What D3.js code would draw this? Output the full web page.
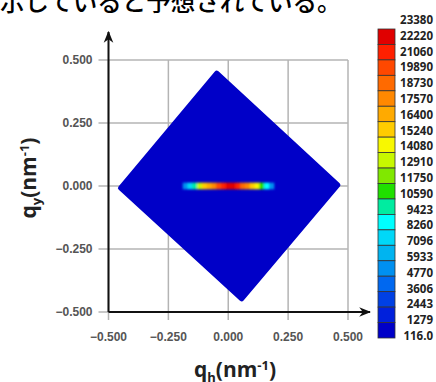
<!DOCTYPE html>
<html>
<head>
<meta charset="utf-8">
<script src="https://cdn.jsdelivr.net/npm/d3@7/dist/d3.min.js"></script>
<style>
  body { margin: 0; background: #fff; }
  svg { display: block; }
  .tick-label { font-family: "Liberation Sans Narrow", "Liberation Sans", sans-serif; font-size: 12px; font-weight: bold; fill: #555; }
  .cb-label { font-family: "Open Sans", "Liberation Sans", sans-serif; font-size: 11.5px; font-weight: bold; fill: #222; }
  .axis-title { font-family: "Open Sans", sans-serif; font-size: 21px; font-weight: bold; fill: #222; }
</style>
</head>
<body>
<div id="chart"></div>
<script>
// --- data ---
const xTicks = [-0.5, -0.25, 0, 0.25, 0.5];
const yTicks = [-0.5, -0.25, 0, 0.25, 0.5];

// colour bar: labels top -> bottom, box colours top -> bottom
const cbLabels = ["23380", "22220", "21060", "19890", "18730", "17570", "16400", "15240", "14080", "12910",
  "11750", "10590", "9423", "8260", "7096", "5933", "4770", "3606", "2443", "1279", "116.0"];
const cbColors = ["#e00000", "#ff2000", "#ff4800", "#ff6a00", "#ff8800", "#ffaa00", "#ffcc00", "#f8f800", "#c8f800", "#80e800",
  "#20e000", "#00eca0", "#00ffff", "#00d8f8", "#00b4f0", "#0090f0", "#0068f0", "#0040e4", "#0020dc", "#0000c8"];

// footprint of the sample (rotated square), corners in q units
const footprintQh = [-0.048, 0.458, 0.056, -0.450];
const footprintQy = [0.448, 0.004, -0.448, -0.008];

// streak along q_y = 0
const streakQh = [-0.18, -0.16, -0.14, -0.12, -0.10, -0.08, -0.06, -0.04, -0.02, 0.00,
  0.02, 0.04, 0.06, 0.08, 0.10, 0.12, 0.14, 0.16, 0.18];
const streakI = [5200, 8200, 10300, 13500, 15600, 17200, 18600, 20200, 22000, 23000,
  23100, 21600, 19600, 17600, 16000, 14300, 11000, 8400, 5400];

const width = 436, height = 382;
const svg = d3.select("#chart").append("svg")
  .attr("width", width).attr("height", height);

// caption from the page above (cropped)
svg.append("text")
  .attr("x", 0).attr("y", 11)
  .style("font-family", "'Noto Sans CJK JP', sans-serif")
  .style("font-size", "24.5px")
  .style("font-weight", 500)
  .text("示していると予想されている。");

// --- scales ---
const x = d3.scaleLinear().domain([-0.5, 0.5]).range([108.5, 348]);
const y = d3.scaleLinear().domain([-0.5, 0.5]).range([312, 60]);

// colour scale from the bar's thresholds
const thresholds = cbLabels.slice(1, -1).map(Number).reverse();
const color = d3.scaleThreshold().domain(thresholds).range(cbColors.slice().reverse());

const defs = svg.append("defs");
defs.append("filter").attr("id", "blur")
  .attr("x", "-20%").attr("y", "-100%").attr("width", "140%").attr("height", "300%")
  .append("feGaussianBlur").attr("stdDeviation", "1.2 0.9");

// grid
const grid = svg.append("g");
grid.selectAll(".gx").data(xTicks).join("line")
  .attr("x1", d => x(d)).attr("x2", d => x(d))
  .attr("y1", y(0.5)).attr("y2", y(-0.5) + 8)
  .attr("stroke", "#b4b4b4").attr("stroke-width", 1.5);
grid.selectAll(".gy").data(yTicks).join("line")
  .attr("x1", x(-0.5) - 10).attr("x2", x(0.5))
  .attr("y1", d => y(d)).attr("y2", d => y(d))
  .attr("stroke", "#b4b4b4").attr("stroke-width", 1.5);

// footprint
const pts = footprintQh.map((d, i) => [x(d), y(footprintQy[i])]);
svg.append("path")
  .attr("d", "M" + pts.join("L") + "Z")
  .attr("fill", cbColors[cbColors.length - 1])
  .attr("stroke", cbColors[cbColors.length - 1])
  .attr("stroke-width", 5)
  .attr("stroke-linejoin", "round");

// streak
const cellW = x(0.02) - x(0);
svg.append("g").attr("filter", "url(#blur)")
  .selectAll("rect").data(streakQh).join("rect")
  .attr("x", d => x(d) - cellW / 2)
  .attr("y", y(0) - 3.3)
  .attr("width", cellW + 0.5)
  .attr("height", 6.6)
  .attr("fill", (d, i) => color(streakI[i]));

// axes lines with arrows
defs.append("marker").attr("id", "arrow")
  .attr("viewBox", "0 0 10 10").attr("refX", 9).attr("refY", 5)
  .attr("markerWidth", 6).attr("markerHeight", 6).attr("orient", "auto")
  .append("path").attr("d", "M0,1 L10,5 L0,9 L3,5 Z").attr("fill", "#111");

svg.append("line")
  .attr("x1", x(-0.5)).attr("x2", x(-0.5))
  .attr("y1", y(-0.5)).attr("y2", 32)
  .attr("stroke", "#111").attr("stroke-width", 2)
  .attr("marker-end", "url(#arrow)");
svg.append("line")
  .attr("x1", x(-0.5)).attr("x2", 370)
  .attr("y1", y(-0.5)).attr("y2", y(-0.5))
  .attr("stroke", "#111").attr("stroke-width", 2)
  .attr("marker-end", "url(#arrow)");

const fmt = d => d3.format(".3f")(d).replace("-", "\u2212");

svg.append("g").selectAll("text").data(yTicks).join("text")
  .attr("class", "tick-label")
  .attr("x", x(-0.5) - 16).attr("y", d => y(d))
  .attr("dy", "0.35em").attr("text-anchor", "end")
  .text(fmt);
svg.append("g").selectAll("text").data(xTicks).join("text")
  .attr("class", "tick-label")
  .attr("x", d => x(d)).attr("y", y(-0.5) + 29)
  .attr("text-anchor", "middle")
  .text(fmt);

// axis titles
const yt = svg.append("text").attr("class", "axis-title")
  .attr("transform", `translate(36,${y(0) - 8}) rotate(-90)`)
  .attr("text-anchor", "middle");
yt.append("tspan").text("q");
yt.append("tspan").attr("dy", 5).style("font-size", "13px").text("y");
yt.append("tspan").attr("dy", -5).text("(nm");
yt.append("tspan").attr("dy", -7).style("font-size", "13px").text("-1");
yt.append("tspan").attr("dy", 7).text(")");

const xt = svg.append("text").attr("class", "axis-title")
  .attr("x", 235).attr("y", 377)
  .attr("text-anchor", "middle");
xt.append("tspan").text("q");
xt.append("tspan").attr("dy", 5).style("font-size", "13px").text("h");
xt.append("tspan").attr("dy", -5).text("(nm");
xt.append("tspan").attr("dy", -7).style("font-size", "13px").text("-1");
xt.append("tspan").attr("dy", 7).text(")");

// colour bar
const cbY = d3.scaleBand().domain(d3.range(cbColors.length)).range([29, 338]);
const cbL = d3.scalePoint().domain(d3.range(cbLabels.length)).range([20, 336]);
const cb = svg.append("g");
cb.selectAll("rect").data(cbColors).join("rect")
  .attr("x", 378).attr("width", 17)
  .attr("y", (d, i) => cbY(i)).attr("height", cbY.bandwidth())
  .attr("fill", d => d)
  .attr("stroke", "#333").attr("stroke-width", 0.8);
cb.selectAll("text").data(cbLabels).join("text")
  .attr("class", "cb-label")
  .attr("x", 433).attr("y", (d, i) => cbL(i))
  .attr("dy", "0.35em").attr("text-anchor", "end")
  .text(d => d);
</script>
</body>
</html>
